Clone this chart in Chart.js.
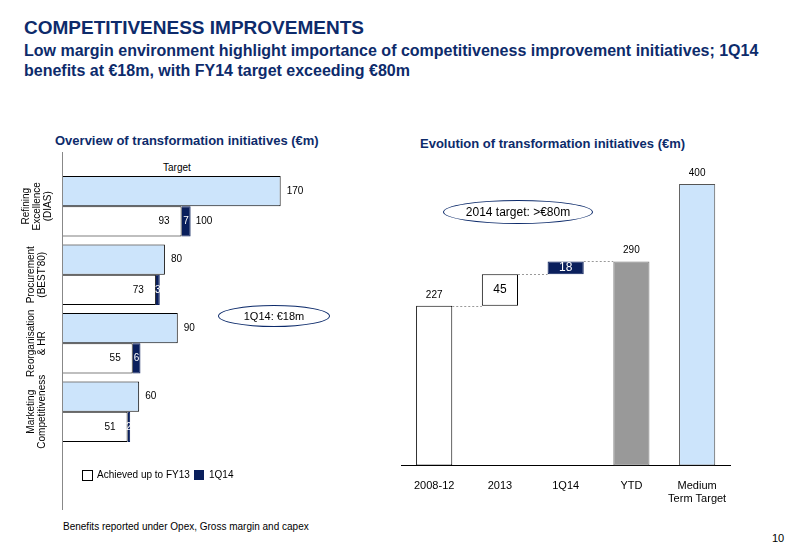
<!DOCTYPE html>
<html><head><meta charset="utf-8">
<script src="https://cdn.jsdelivr.net/npm/chart.js@4"></script>
<style>
body{margin:0;width:800px;height:554px;background:#fff;font-family:"Liberation Sans",Arial,sans-serif;position:relative;overflow:hidden}
.t1{position:absolute;left:24px;top:17px;font-size:19px;font-weight:bold;color:#0d2b6b}
.t2{position:absolute;left:24px;top:41px;font-size:16px;font-weight:bold;color:#0d2b6b;line-height:20px;width:760px}
.st{position:absolute;font-size:13px;font-weight:bold;color:#0d2b6b}
.ell{position:absolute;border:1px solid #0d2b6b;border-radius:50%;font-size:11px;text-align:center;color:#000}
.abs{position:absolute;font-size:10px;color:#000}
canvas{position:absolute}
</style></head><body>
<div class="t1">COMPETITIVENESS IMPROVEMENTS</div>
<div class="t2">Low margin environment highlight importance of competitiveness improvement initiatives; 1Q14 benefits at €18m, with FY14 target exceeding €80m</div>
<div class="st" style="left:55px;top:133px">Overview of transformation initiatives (€m)</div>
<div class="st" style="left:420px;top:136px">Evolution of transformation initiatives (€m)</div>
<div class="abs" style="left:163px;top:162px">Target</div>
<div style="position:absolute;left:0;top:150px;width:410px;height:360px"><canvas id="c1"></canvas></div>
<div style="position:absolute;left:400px;top:150px;width:345px;height:370px"><canvas id="c2"></canvas></div>
<div class="ell" style="left:218px;top:305px;width:110px;height:20px;line-height:20px">1Q14: €18m</div>
<div class="ell" style="left:443px;top:200px;width:148px;height:22px;line-height:22px;font-size:12px">2014 target: >€80m</div>
<div class="abs" style="left:63px;top:521px">Benefits reported under Opex, Gross margin and capex</div>
<div class="abs" style="left:772px;top:532px;font-size:11px">10</div>
<script>
const categories=[["Refining","Excellence","(DIAS)"],["Procurement","(BEST'80)"],["Reorganisation","& HR"],["Marketing","Competitiveness"]];
const targetVals=[170,80,90,60];
const achievedVals=[93,73,55,51];
const q1Vals=[7,3,6,2];
const totalLabels=[100,null,null,null];
const wfCats=["2008-12","2013","1Q14","YTD",["Medium","Term Target"]];
const wfStart=[0,227,272,0,0];
const wfEnd=[227,272,290,290,400];
const wfLabels=["227","45","18","290","400"];
const NAVY="#0a1f5c",LB="#cce4fb";
Chart.defaults.font.family='"Liberation Sans",Arial,sans-serif';
Chart.defaults.animation=false;

const p1={id:'p1',afterDraw(c){const x=c.ctx,a=c.chartArea;x.save();
x.strokeStyle="#888";x.lineWidth=1;x.beginPath();x.moveTo(a.left+0.5,a.top-20);x.lineTo(a.left+0.5,c.height);x.stroke();
x.font="10px 'Liberation Sans'";x.textBaseline="middle";
const m0=c.getDatasetMeta(0),m1=c.getDatasetMeta(1),m2=c.getDatasetMeta(2);
targetVals.forEach((v,i)=>{const b=m0.data[i];x.fillStyle="#000";x.textAlign="left";x.fillText(v,b.x+6,b.y);
const b1=m1.data[i];x.textAlign="right";x.fillText(achievedVals[i],b1.x-12,b1.y);
const b2=m2.data[i];x.fillStyle="#fff";x.textAlign="center";x.fillText(q1Vals[i],(b2.x+b2.base)/2,b2.y);
if(totalLabels[i]!=null){x.fillStyle="#000";x.textAlign="left";x.fillText(totalLabels[i],b2.x+5,b2.y);}
const cy=(b.y+b1.y)/2;x.save();x.translate(a.left-25,cy);x.rotate(-Math.PI/2);x.fillStyle="#000";x.textAlign="center";
const L=categories[i];L.forEach((s,k)=>x.fillText(s,0,(k-(L.length-1)/2)*11));x.restore();});
const ly=325;x.lineWidth=1;x.strokeStyle="#000";x.fillStyle="#fff";x.fillRect(a.left+20,ly-5,10,10);x.strokeRect(a.left+20.5,ly-4.5,10,10);
x.fillStyle="#000";x.textAlign="left";x.fillText(c.data.datasets[1].label,a.left+35,ly);
x.fillStyle=NAVY;x.fillRect(a.left+132,ly-5,10,10);x.fillStyle="#000";x.fillText(c.data.datasets[2].label,a.left+147,ly);
x.restore();}};
new Chart(document.getElementById('c1'),{type:'bar',plugins:[p1],
data:{labels:categories.map(c=>c.join(' ')),datasets:[
{label:'Target',data:targetVals,backgroundColor:LB,borderColor:"#000",borderWidth:1,stack:'t'},
{label:'Achieved up to FY13',data:achievedVals,backgroundColor:"#fff",borderColor:"#000",borderWidth:1,stack:'a'},
{label:'1Q14',data:q1Vals,backgroundColor:NAVY,borderColor:NAVY,borderWidth:1,stack:'a'}]},
options:{indexAxis:'y',responsive:true,maintainAspectRatio:false,categoryPercentage:0.88,barPercentage:1,
layout:{padding:{left:62,top:22,right:20,bottom:64}},
plugins:{legend:{display:false},tooltip:{enabled:false}},
scales:{x:{display:false,min:0,max:255,stacked:true},y:{display:false,stacked:true}}}});

const p2={id:'p2',afterDraw(c){const x=c.ctx,m=c.getDatasetMeta(0),ys=c.scales.y;x.save();
x.textAlign="center";
m.data.forEach((b,i)=>{const w=b.width/2;
if(i==1||i==2){x.fillStyle=i==2?"#fff":"#000";x.textBaseline="middle";x.font="12px 'Liberation Sans'";x.fillText(wfLabels[i],b.x,(b.y+b.base)/2);}
else{x.fillStyle="#000";x.textBaseline="bottom";x.font="10px 'Liberation Sans'";x.fillText(wfLabels[i],b.x,Math.min(b.y,b.base)-6);}
if(i<3){const nb=m.data[i+1];const yy=ys.getPixelForValue(wfEnd[i]);x.strokeStyle="#999";x.setLineDash([2,2]);x.lineWidth=1;x.beginPath();x.moveTo(b.x+w,Math.round(yy)+0.5);x.lineTo(nb.x-w,Math.round(yy)+0.5);x.stroke();x.setLineDash([]);}});
x.restore();}};
new Chart(document.getElementById('c2'),{type:'bar',plugins:[p2],
data:{labels:wfCats,datasets:[{data:wfStart.map((s,i)=>[s,wfEnd[i]]),
backgroundColor:["#fff","#fff",NAVY,"#999999",LB],borderColor:["#000","#000",NAVY,"#777","#555"],borderWidth:1,borderSkipped:false}]},
options:{responsive:true,maintainAspectRatio:false,categoryPercentage:0.55,barPercentage:1,
layout:{padding:{left:0,top:20,right:15,bottom:0}},
plugins:{legend:{display:false},tooltip:{enabled:false}},
scales:{y:{display:false,min:0,max:420},x:{grid:{display:false,drawTicks:false},border:{color:"#000"},ticks:{color:"#000",font:{size:11},padding:14}}}}});
</script></body></html>
